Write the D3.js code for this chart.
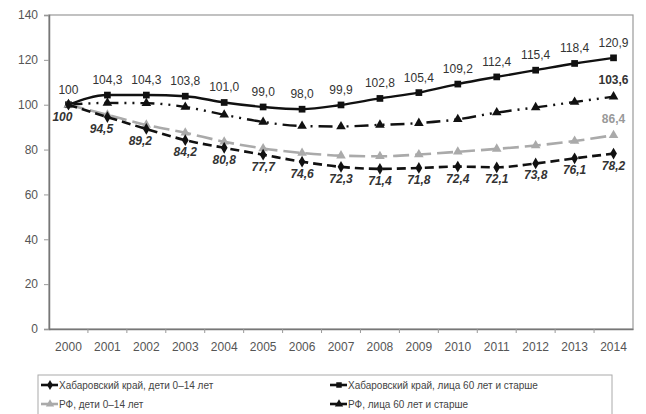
<!DOCTYPE html>
<html>
  <head>
    <meta charset="UTF-8">
    <style>
      body { margin: 0; background: #fff; font-family: "Liberation Sans", Arial, sans-serif; }
      .tick text { font-size: 12px; fill: #555; }
      .legend text { font-size: 10px; fill: #444; }
    </style>
    <script src="https://d3js.org/d3.v7.min.js"></script>
  </head>
  <body>
    <svg id="chart"></svg>
    <script>
      const years = ['2000','2001','2002','2003','2004','2005','2006','2007','2008','2009','2010','2011','2012','2013','2014']
      const khChildren = [100, 94.5, 89.2, 84.2, 80.8, 77.7, 74.6, 72.3, 71.4, 71.8, 72.4, 72.1, 73.8, 76.1, 78.2]
      const khElderly = [100, 104.3, 104.3, 103.8, 101.0, 99.0, 98.0, 99.9, 102.8, 105.4, 109.2, 112.4, 115.4, 118.4, 120.9]
      const rfChildren = [100, 95.5, 91, 87.5, 83.5, 80.5, 78.5, 77.3, 77, 77.8, 79, 80.3, 81.8, 83.8, 86.4]
      const rfElderly = [100, 100.8, 100.7, 99, 95.5, 92.3, 90.5, 90.3, 91, 91.8, 93.5, 96.5, 98.8, 101.2, 103.6]
      const yTicks = [0, 20, 40, 60, 80, 100, 120, 140]

      const width = 646, height = 414
      const margin = {top: 15, right: 13, bottom: 85, left: 49}
      const fmt = v => d3.format('.1f')(v).replace('.', ',')

      const svg = d3.select('#chart').attr('width', width).attr('height', height)

      const x = d3.scalePoint().domain(years)
        .range([margin.left, width - margin.right]).padding(0.5)
      const xBand = d3.scaleBand().domain(years)
        .range([margin.left, width - margin.right])
      const y = d3.scaleLinear().domain([0, 140])
        .range([height - margin.bottom, margin.top])

      // frame
      svg.append('rect')
        .attr('x', margin.left).attr('y', margin.top)
        .attr('width', width - margin.left - margin.right)
        .attr('height', height - margin.top - margin.bottom)
        .attr('fill', 'none').attr('stroke', '#999').attr('stroke-width', 1.2)

      let yAxis = svg.append('g')
        .attr('transform', `translate(${margin.left},0)`)
        .call(d3.axisLeft(y).tickValues(yTicks).tickSize(5).tickPadding(6))
      yAxis.select('.domain').attr('stroke', '#777').attr('stroke-width', 1.5)
      yAxis.selectAll('line').attr('stroke', '#999')

      let xAxis = svg.append('g')
        .attr('transform', `translate(0,${height - margin.bottom})`)
        .call(d3.axisBottom(xBand).tickSize(0).tickPadding(13))
      xAxis.select('.domain').attr('stroke', '#777').attr('stroke-width', 1.5)
      xAxis.selectAll('.sep')
        .data(years.slice(1))
        .join('line')
          .attr('class', 'sep')
          .attr('x1', d => xBand(d)).attr('x2', d => xBand(d))
          .attr('y1', 0).attr('y2', 4)
          .attr('stroke', '#999')

      const series = [
        {name: 'Хабаровский край, лица 60 лет и старше', values: khElderly, color: '#111', dash: null, width: 2.4, marker: 'square'},
        {name: 'РФ, лица 60 лет и старше', values: rfElderly, color: '#111', dash: '14,6,2,6,2,6', width: 2.4, marker: 'triangle'},
        {name: 'РФ, дети 0–14 лет', values: rfChildren, color: '#aaa', dash: '16,6', width: 2.6, marker: 'triangle'},
        {name: 'Хабаровский край, дети 0–14 лет', values: khChildren, color: '#111', dash: '9,5', width: 2.6, marker: 'diamond'}
      ]

      const symbols = {square: d3.symbolSquare, triangle: d3.symbolTriangle, diamond: d3.symbolDiamond}
      const line = d3.line().x((d, i) => x(years[i])).y(d => y(d)).curve(d3.curveMonotoneX)

      series.forEach(s => {
        svg.append('path')
          .datum(s.values)
          .attr('d', line)
          .attr('fill', 'none')
          .attr('stroke', s.color)
          .attr('stroke-width', s.width)
          .attr('stroke-dasharray', s.dash)
        svg.append('g').selectAll('path')
          .data(s.values)
          .join('path')
            .attr('transform', (d, i) => `translate(${x(years[i])},${y(d)})`)
            .attr('d', d3.symbol().type(symbols[s.marker]).size(s.marker == 'square' ? 45 : 40))
            .attr('fill', s.color)
      })

      // labels for Khabarovsk 60+ (above)
      svg.append('g').selectAll('text')
        .data(khElderly)
        .join('text')
          .attr('x', (d, i) => x(years[i]))
          .attr('y', d => y(d) - 11)
          .attr('text-anchor', 'middle')
          .attr('font-size', 12)
          .attr('fill', '#333')
          .text((d, i) => i == 0 ? '100' : fmt(d))

      // labels for Khabarovsk children (below, bold italic)
      svg.append('g').selectAll('text')
        .data(khChildren)
        .join('text')
          .attr('x', (d, i) => x(years[i]) - (i < 3 ? 6 : 0))
          .attr('y', d => y(d) + 16)
          .attr('text-anchor', 'middle')
          .attr('font-size', 12)
          .attr('font-weight', 'bold')
          .attr('font-style', 'italic')
          .attr('fill', '#333')
          .text((d, i) => i == 0 ? '100' : fmt(d))

      // end labels for RF series
      const last = years.length - 1
      svg.append('text')
        .attr('x', x(years[last])).attr('y', y(rfElderly[last]) - 13)
        .attr('text-anchor', 'middle').attr('font-size', 12).attr('font-weight', 'bold')
        .attr('fill', '#333').text(fmt(rfElderly[last]))
      svg.append('text')
        .attr('x', x(years[last])).attr('y', y(rfChildren[last]) - 12)
        .attr('text-anchor', 'middle').attr('font-size', 12).attr('font-weight', 'bold')
        .attr('fill', '#999').text(fmt(rfChildren[last]))

      // legend
      const legend = svg.append('g').attr('class', 'legend')
      legend.append('rect')
        .attr('x', 38).attr('y', 375).attr('width', 574).attr('height', 42)
        .attr('fill', 'none').attr('stroke', '#aaa')
      const legendItems = [series[3], series[0], series[2], series[1]]
      legendItems.forEach((s, i) => {
        let lx = i % 2 == 0 ? 41 : 330
        let ly = i < 2 ? 385 : 404
        let g = legend.append('g').attr('transform', `translate(${lx},${ly})`)
        g.append('line').attr('x1', 0).attr('x2', 17).attr('y1', 0).attr('y2', 0)
          .attr('stroke', s.color).attr('stroke-width', 2.6)
        g.append('path').attr('transform', 'translate(9,0)')
          .attr('d', d3.symbol().type(symbols[s.marker]).size(30))
          .attr('fill', s.color)
        g.append('text').attr('x', 18).attr('y', 3.5).text(s.name)
      })
    </script>
  </body>
</html>
